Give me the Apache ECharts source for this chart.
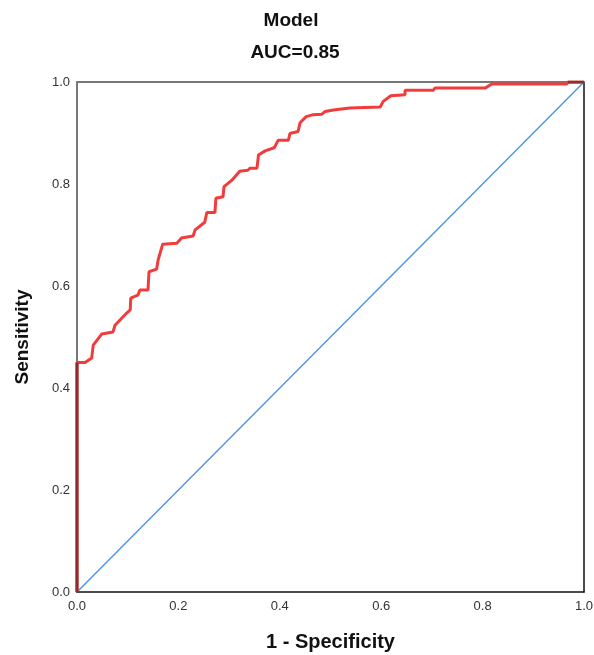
<!DOCTYPE html>
<html>
<head>
<meta charset="utf-8">
<script src="https://cdn.jsdelivr.net/npm/echarts@6/dist/echarts.min.js"></script>
<style>html,body{margin:0;padding:0;background:#fff;}#c{width:594px;height:655px;}</style>
</head>
<body>
<div id="c"></div>
<script>
const titleText = "Model";
const subtitleText = "AUC=0.85";
const xName = "1 - Specificity";
const yName = "Sensitivity";
const tickValues = [0, 0.2, 0.4, 0.6, 0.8, 1.0];
const rocFpr = [0, 0, 0.016, 0.029, 0.032, 0.049, 0.071, 0.075, 0.098, 0.105, 0.106, 0.12, 0.124, 0.14, 0.142, 0.157, 0.16, 0.169, 0.197, 0.206, 0.229, 0.233, 0.252, 0.256, 0.272, 0.274, 0.288, 0.29, 0.305, 0.321, 0.337, 0.341, 0.355, 0.358, 0.371, 0.389, 0.397, 0.417, 0.42, 0.436, 0.44, 0.452, 0.466, 0.483, 0.489, 0.506, 0.538, 0.598, 0.604, 0.619, 0.647, 0.647, 0.703, 0.706, 0.805, 0.818, 0.966, 0.968, 1.0];
const rocTpr = [0, 0.45, 0.45, 0.459, 0.484, 0.506, 0.51, 0.523, 0.547, 0.553, 0.576, 0.582, 0.592, 0.592, 0.628, 0.633, 0.651, 0.682, 0.684, 0.694, 0.698, 0.71, 0.725, 0.744, 0.744, 0.772, 0.775, 0.795, 0.807, 0.825, 0.827, 0.831, 0.831, 0.857, 0.865, 0.871, 0.886, 0.886, 0.899, 0.903, 0.92, 0.932, 0.936, 0.937, 0.942, 0.945, 0.949, 0.951, 0.962, 0.973, 0.975, 0.984, 0.984, 0.988, 0.988, 0.996, 0.996, 1.0, 1.0];
const refX = [0, 1];
const refY = [0, 1];

const roc = rocFpr.map((x, i) => [x, rocTpr[i]]);
const ref = refX.map((x, i) => [x, refY[i]]);
const font = "'Liberation Sans', Arial, sans-serif";

const chart = echarts.init(document.getElementById('c'), null, {renderer: 'canvas'});
const labelStyle = {color: '#333', fontSize: 13, fontFamily: font};
chart.setOption({
  animation: false,
  backgroundColor: '#fff',
  graphic: [
    {type: 'text', x: 291, y: 21, style: {text: titleText, fill: '#111', font: 'bold 19px ' + font, textAlign: 'center', textVerticalAlign: 'middle'}},
    {type: 'text', x: 295, y: 53, style: {text: subtitleText, fill: '#111', font: 'bold 19px ' + font, textAlign: 'center', textVerticalAlign: 'middle'}}
  ],
  grid: {left: 77, right: 10, top: 82, bottom: 63, containLabel: false, outerBoundsMode: 'none'},
  xAxis: [
    {type: 'value', min: 0, max: 1, interval: 0.2, position: 'bottom',
     name: xName, nameLocation: 'middle', nameGap: 40,
     nameTextStyle: {fontSize: 20, fontWeight: 'bold', color: '#111', fontFamily: font},
     axisLine: {show: true, lineStyle: {color: '#111', width: 1.5}},
     axisTick: {show: false}, splitLine: {show: false},
     axisLabel: Object.assign({margin: 8, formatter: v => v.toFixed(1)}, labelStyle)},
    {type: 'value', min: 0, max: 1, position: 'top',
     axisLine: {show: true, onZero: false, lineStyle: {color: '#777', width: 2}},
     axisTick: {show: false}, splitLine: {show: false}, axisLabel: {show: false}}
  ],
  yAxis: [
    {type: 'value', min: 0, max: 1, interval: 0.2, position: 'left',
     name: yName, nameLocation: 'middle', nameGap: 45,
     nameTextStyle: {fontSize: 19, fontWeight: 'bold', color: '#111', fontFamily: font},
     axisLine: {show: true, onZero: false, lineStyle: {color: '#777', width: 2}},
     axisTick: {show: false}, splitLine: {show: false},
     axisLabel: Object.assign({margin: 7, formatter: v => v.toFixed(1)}, labelStyle)},
    {type: 'value', min: 0, max: 1, position: 'right',
     axisLine: {show: true, onZero: false, lineStyle: {color: '#111', width: 1.5}},
     axisTick: {show: false}, splitLine: {show: false}, axisLabel: {show: false}}
  ],
  series: [
    {type: 'line', data: ref, showSymbol: false, lineStyle: {color: '#4a90e2', width: 1.3}, z: 2},
    {type: 'line', data: roc, showSymbol: false, lineStyle: {color: '#f23c3c', width: 3}, z: 3},
    {type: 'line', data: roc.slice(0, 2), showSymbol: false, lineStyle: {color: '#8e2f2f', width: 3}, z: 4},
    {type: 'line', data: roc.slice(-2), showSymbol: false, lineStyle: {color: '#8e2f2f', width: 3}, z: 4}
  ]
});
</script>
</body>
</html>
